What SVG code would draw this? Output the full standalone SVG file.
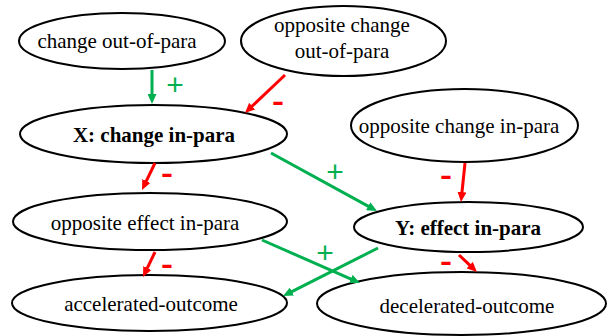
<svg xmlns="http://www.w3.org/2000/svg" width="608" height="336" viewBox="0 0 608 336">
<defs>
<marker id="ag" markerUnits="userSpaceOnUse" markerWidth="10" markerHeight="9" refX="4" refY="4.5" orient="auto"><path d="M0,0 L10,4.5 L0,9 z" fill="#00B050"/></marker>
<marker id="ar" markerUnits="userSpaceOnUse" markerWidth="10" markerHeight="9" refX="4" refY="4.5" orient="auto"><path d="M0,0 L10,4.5 L0,9 z" fill="#FF0000"/></marker>
</defs>
<style>
.n{fill:#fff;stroke:#000;stroke-width:2}
.t{font-size:21px;fill:#000;text-anchor:middle}
.b{font-weight:bold}
.g{stroke:#00B050;stroke-width:3;fill:none;marker-end:url(#ag)}
.r{stroke:#FF0000;stroke-width:3;fill:none;marker-end:url(#ar)}
.p{font-size:30px;fill:#00B050;text-anchor:middle}
.m{font-size:28px;font-weight:bold;fill:#FF0000;text-anchor:middle}
</style>
<rect width="608" height="336" fill="#fff"/>
<g font-family="Liberation Serif, Times New Roman, DejaVu Serif, serif">
<g id="change-out-of-para"><ellipse class="n" cx="122" cy="41" rx="103" ry="28"/><text class="t" x="117" y="48">change out-of-para</text></g>
<g id="opposite-change-out-of-para"><ellipse class="n" cx="343.5" cy="41" rx="102.5" ry="35"/><text class="t" x="342" y="32">opposite change</text><text class="t" x="342" y="58">out-of-para</text></g>
<g id="x-change-in-para"><ellipse class="n" cx="153.5" cy="134" rx="133.5" ry="29"/><text class="t b" x="154" y="142">X: change in-para</text></g>
<g id="opposite-change-in-para"><ellipse class="n" cx="464.5" cy="125.5" rx="113.5" ry="36.5"/><text class="t" x="459" y="133">opposite change in-para</text></g>
<g id="opposite-effect-in-para"><ellipse class="n" cx="150" cy="221.5" rx="137" ry="28.5"/><text class="t" x="145" y="230">opposite effect in-para</text></g>
<g id="y-effect-in-para"><ellipse class="n" cx="468.5" cy="227" rx="114.5" ry="25"/><text class="t b" x="468" y="235">Y: effect in-para</text></g>
<g id="accelerated-outcome"><ellipse class="n" cx="149.5" cy="303" rx="137.5" ry="28"/><text class="t" x="151" y="311">accelerated-outcome</text></g>
<g id="decelerated-outcome"><ellipse class="n" cx="461.5" cy="303.5" rx="144.5" ry="31.5"/><text class="t" x="467" y="313">decelerated-outcome</text></g>
</g>
<g id="connectors" font-family="Liberation Sans, Arial, sans-serif">
<path class="g" d="M152,70 L152,98"/>
<path class="r" d="M285,75 L249.3,108.9"/>
<path class="g" d="M271,153 L371.7,208.1"/>
<path class="r" d="M465,163 L461.6,196"/>
<path class="r" d="M155,163 L144.6,184.6"/>
<path class="r" d="M155,252 L145.6,271.6"/>
<path class="g" d="M262,240 L354.5,280.6"/>
<path class="g" d="M378,248 L288.4,293.3"/>
<path class="r" d="M459,255 L472.6,267.9"/>
<text class="p" x="175" y="95">+</text>
<text class="p" x="335" y="182">+</text>
<text class="p" x="325" y="263">+</text>
<text class="m" x="278" y="111" textLength="12" lengthAdjust="spacingAndGlyphs">-</text>
<text class="m" x="167" y="183" textLength="12" lengthAdjust="spacingAndGlyphs">-</text>
<text class="m" x="167" y="274" textLength="12" lengthAdjust="spacingAndGlyphs">-</text>
<text class="m" x="446" y="185" textLength="12" lengthAdjust="spacingAndGlyphs">-</text>
<text class="m" x="446" y="271" textLength="12" lengthAdjust="spacingAndGlyphs">-</text>
</g>
</svg>
